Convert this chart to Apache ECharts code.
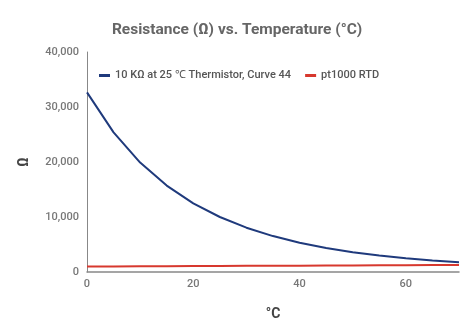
<!DOCTYPE html>
<html><head><meta charset="utf-8">
<script src="https://cdn.jsdelivr.net/npm/echarts@6/dist/echarts.min.js"></script>
<style>html,body{margin:0;padding:0;background:#fff}#c{width:474px;height:332px}</style>
</head><body><div id="c"></div>
<script>
const temps = [0,5,10,15,20,25,30,35,40,45,50,55,60,65,70];
const thermistor = [32650,25390,19900,15710,12490,10000,8057,6530,5327,4370,3603,2986,2488,2083,1752];
const rtd = [1000,1019,1039,1058,1078,1097,1117,1136,1155,1175,1194,1213,1232,1252,1271];
const yTicks = [0,10000,20000,30000,40000];
const xTicks = [0,20,40,60];
const names = ['10 KΩ at 25 ℃ Thermistor, Curve 44','pt1000 RTD'];
const chart = echarts.init(document.getElementById('c'));
const font = 'Roboto';
chart.setOption({
  animation:false,
  title:{text:'Resistance (Ω) vs. Temperature (°C)',left:'center',top:17,
    textStyle:{fontFamily:font,fontSize:15.5,fontWeight:'bold',color:'#666'}},
  legend:{left:94,top:65,itemWidth:11,itemHeight:3,itemGap:14,icon:'rect',
    textStyle:{fontFamily:font,fontSize:11,fontWeight:500,color:'#555'},
    data:names},
  grid:{left:87,right:15,top:52,bottom:60,containLabel:false},
  xAxis:{type:'value',min:0,max:70,interval:20,
    name:'°C',nameLocation:'middle',nameGap:35,
    nameTextStyle:{fontFamily:font,fontSize:14,fontWeight:'bold',color:'#444'},
    axisLine:{show:true,lineStyle:{color:'#888',width:1.5}},
    axisTick:{show:false},splitLine:{show:false},
    axisLabel:{fontFamily:font,fontSize:11,fontWeight:500,color:'#777',margin:7,
      formatter:v=>xTicks.includes(v)?String(v):''}},
  yAxis:{type:'value',min:0,max:40000,interval:10000,
    name:'Ω',nameLocation:'middle',nameGap:56,nameRotate:90,
    nameTextStyle:{fontFamily:font,fontSize:14,fontWeight:'bold',color:'#444'},
    axisLine:{show:true,lineStyle:{color:'#888',width:1}},
    axisTick:{show:false},splitLine:{show:false},
    axisLabel:{fontFamily:font,fontSize:11,fontWeight:500,color:'#777',margin:8,
      formatter:v=>yTicks.includes(v)?v.toLocaleString('en-US'):''}},
  series:[
    {name:names[0],type:'line',data:temps.map((t,i)=>[t,thermistor[i]]),
      showSymbol:false,lineStyle:{width:2,color:'#1f3a7c'},itemStyle:{color:'#1f3a7c'}},
    {name:names[1],type:'line',data:temps.map((t,i)=>[t,rtd[i]]),
      showSymbol:false,lineStyle:{width:2,color:'#d7382e'},itemStyle:{color:'#d7382e'}}
  ]
});
</script></body></html>
